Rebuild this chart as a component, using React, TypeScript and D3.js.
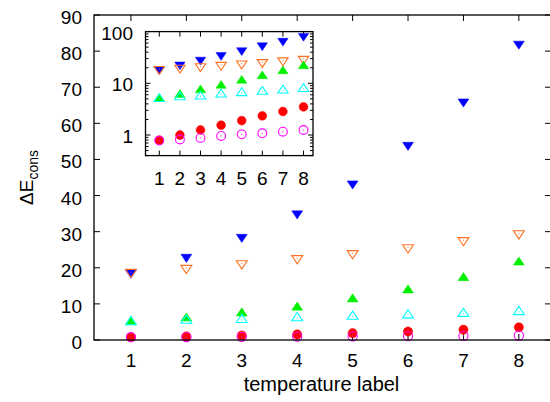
import React from "react";
import * as d3 from "d3";

const labels = [1, 2, 3, 4, 5, 6, 7, 8];
const blueFilledDown = [18.6, 23, 28.5, 35, 43.3, 54, 66, 82];
const orangeOpenDown = [18.8, 19.9, 21.2, 22.6, 24, 25.6, 27.6, 29.5];
const greenFilledUp = [5, 6, 7.4, 9, 11.3, 13.8, 17.2, 21.5];
const cyanOpenUp = [5, 5.4, 5.6, 6.1, 6.5, 6.9, 7.3, 7.8];
const redFilledCircle = [0.8, 1.0, 1.25, 1.55, 1.9, 2.35, 2.85, 3.5];
const magentaOpenCircle = [0.78, 0.82, 0.88, 0.96, 1.03, 1.08, 1.16, 1.25];

const mainYTicks = [0, 10, 20, 30, 40, 50, 60, 70, 80, 90];
const insetYTicks = [1, 10, 100];

type Shape = "down" | "up" | "circle";
interface Series {
  values: number[];
  color: string;
  shape: Shape;
  filled: boolean;
}

const series: Series[] = [
  { values: blueFilledDown, color: "#0000ff", shape: "down", filled: true },
  { values: orangeOpenDown, color: "#ff7020", shape: "down", filled: false },
  { values: greenFilledUp, color: "#00f000", shape: "up", filled: true },
  { values: cyanOpenUp, color: "#00ffff", shape: "up", filled: false },
  { values: redFilledCircle, color: "#ff0000", shape: "circle", filled: true },
  { values: magentaOpenCircle, color: "#ff00ff", shape: "circle", filled: false },
];

const FONT = "'Liberation Sans', Arial, Helvetica, sans-serif";
const FS = 19;

function markerPath(shape: Shape, k: number): string {
  if (shape === "circle") {
    const r = k;
    return `M${-r},0A${r},${r} 0 1,0 ${r},0A${r},${r} 0 1,0 ${-r},0Z`;
  }
  const s = shape === "up" ? 1 : -1;
  return `M0,${-1.33 * k * s}L${-1.33 * k},${0.67 * k * s}L${1.33 * k},${0.67 * k * s}Z`;
}

function Markers({
  xs,
  ys,
  tri,
  circ,
}: {
  xs: (v: number) => number;
  ys: (v: number) => number;
  tri: number;
  circ: number;
}) {
  return (
    <g>
      {series.map((s, si) => (
        <g key={si}>
          {s.values.map((v, i) => {
            const cx = xs(labels[i]);
            const cy = ys(v);
            const k = s.shape === "circle" ? circ : tri;
            return (
              <g key={i} transform={`translate(${cx},${cy})`}>
                <path
                  d={markerPath(s.shape, k)}
                  fill={s.filled ? s.color : "none"}
                  stroke={s.color}
                  strokeWidth={s.filled ? 0.5 : 1.1}
                />
                {!s.filled && <rect x={-0.5} y={-0.5} width={1} height={1} fill={s.color} />}
              </g>
            );
          })}
        </g>
      ))}
    </g>
  );
}

export default function App() {
  const W = 550;
  const H = 402;
  // main frame
  const mL = 94, mR = 551, mT = 15, mB = 340;
  const x = d3.scaleLinear().domain([1 / 3, 8.58]).range([mL, mR]);
  const y = d3.scaleLinear().domain([0, 90]).range([mB, mT]);

  // inset frame
  const iL = 145.5, iR = 313, iT = 31.6, iB = 155.6;
  const xi = d3.scaleLinear().domain([0.33, 8.46]).range([iL, iR]);
  const yi = d3.scaleLog().domain([0.4, 100]).range([iB, iT]);

  const tickLen = 6;
  const insetMinor: number[] = [];
  [0.1, 1, 10].forEach((dec) => {
    for (let m = 2; m <= 9; m++) {
      const v = dec * m;
      if (v >= 0.4 && v < 100) insetMinor.push(v);
    }
  });

  return (
    <svg
      width={W}
      height={H}
      viewBox={`0 0 ${W} ${H}`}
      style={{ position: "absolute", left: 0, top: 0, background: "#fff" }}
      fontFamily={FONT}
    >
      <rect x={0} y={0} width={W} height={H} fill="#fff" />
      {/* main ticks */}
      <g stroke="#000" strokeWidth={1}>
        {mainYTicks.map((t) => (
          <g key={t}>
            <line x1={mL} x2={mL + tickLen} y1={y(t)} y2={y(t)} />
            <line x1={mR} x2={mR - tickLen} y1={y(t)} y2={y(t)} />
          </g>
        ))}
        {labels.map((t) => (
          <g key={t}>
            <line x1={x(t)} x2={x(t)} y1={mB} y2={mB - tickLen} />
            <line x1={x(t)} x2={x(t)} y1={mT} y2={mT + tickLen} />
          </g>
        ))}
      </g>
      <Markers xs={x} ys={y} tri={4.1} circ={4.6} />
      <rect x={mL} y={mT} width={mR - mL} height={mB - mT} fill="none" stroke="#000" strokeWidth={1.3} />
      <g fontSize={FS} fill="#000">
        {mainYTicks.map((t) => (
          <text key={t} x={82} y={y(t) + 9} textAnchor="end">
            {t}
          </text>
        ))}
        {labels.map((t) => (
          <text key={t} x={x(t)} y={367} textAnchor="middle">
            {t}
          </text>
        ))}
        <text x={(mL + 549) / 2} y={391} textAnchor="middle" fontSize={20}>
          temperature label
        </text>
        <text transform={`translate(33,${(mT + mB) / 2}) rotate(-90)`} textAnchor="middle">
          ΔE
          <tspan fontSize={14} dy={5}>
            cons
          </tspan>
        </text>
      </g>

      {/* inset */}
      <rect x={iL} y={iT} width={iR - iL} height={iB - iT} fill="#fff" />
      <g stroke="#000" strokeWidth={1}>
        {insetYTicks.map((t) => (
          <g key={t}>
            <line x1={iL} x2={iL + 5} y1={yi(t)} y2={yi(t)} />
            <line x1={iR} x2={iR - 5} y1={yi(t)} y2={yi(t)} />
          </g>
        ))}
        {insetMinor.map((t) => (
          <g key={t}>
            <line x1={iL} x2={iL + 3} y1={yi(t)} y2={yi(t)} />
            <line x1={iR} x2={iR - 3} y1={yi(t)} y2={yi(t)} />
          </g>
        ))}
        {labels.map((t) => (
          <g key={t}>
            <line x1={xi(t)} x2={xi(t)} y1={iB} y2={iB - 5} />
            <line x1={xi(t)} x2={xi(t)} y1={iT} y2={iT + 5} />
          </g>
        ))}
      </g>
      <Markers xs={xi} ys={yi} tri={3.9} circ={4.4} />
      <rect x={iL} y={iT} width={iR - iL} height={iB - iT} fill="none" stroke="#000" strokeWidth={1.3} />
      <g fontSize={FS} fill="#000">
        {insetYTicks.map((t) => (
          <text key={t} x={133} y={yi(t) + 8} textAnchor="end">
            {t}
          </text>
        ))}
        {labels.map((t) => (
          <text key={t} x={xi(t)} y={185} textAnchor="middle">
            {t}
          </text>
        ))}
      </g>
    </svg>
  );
}
